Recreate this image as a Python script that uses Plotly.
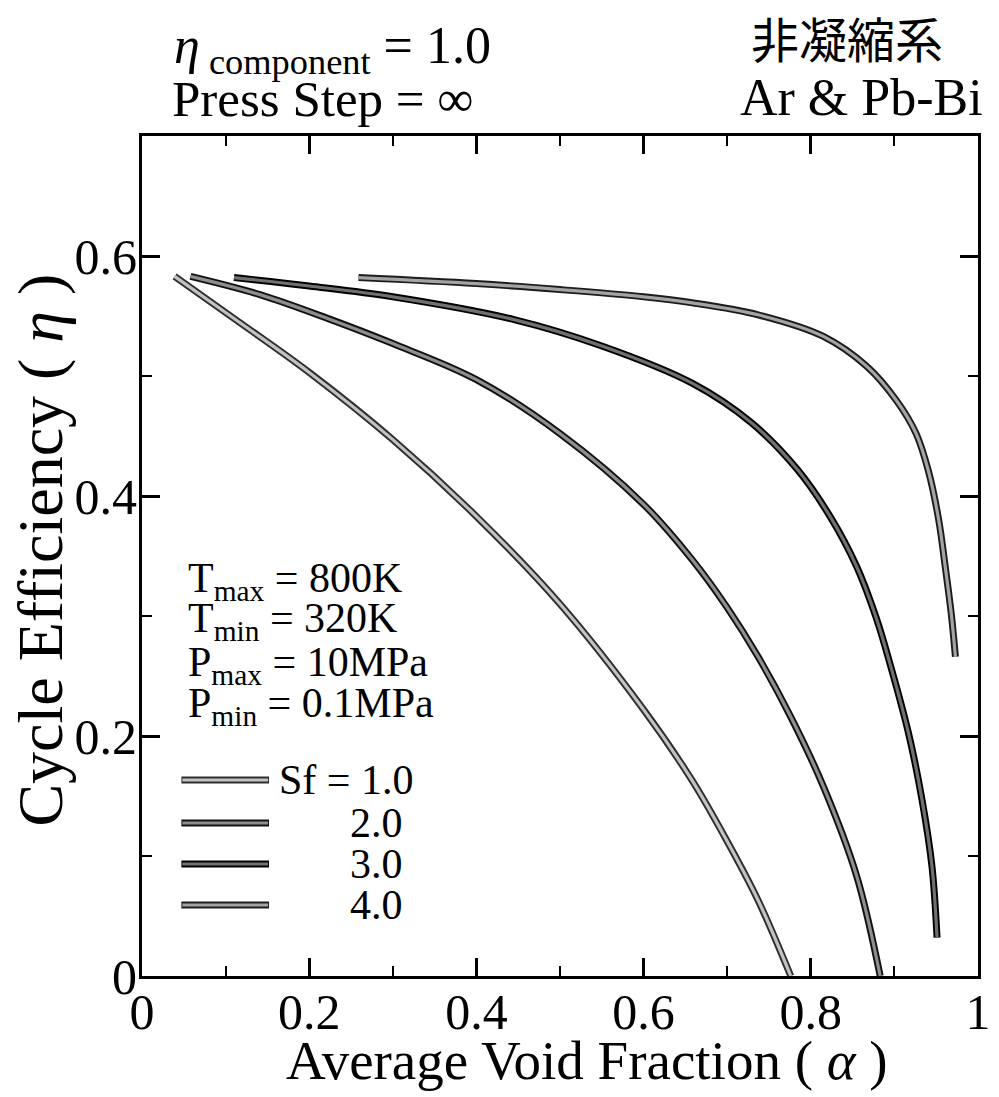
import plotly.graph_objects as go

# ---------------- data ----------------
alpha_sf1 = [0.039, 0.116, 0.2, 0.3, 0.4, 0.5, 0.6, 0.658, 0.697, 0.737, 0.776]
eta_sf1 = [0.583, 0.545, 0.503, 0.447, 0.383, 0.31, 0.222, 0.163, 0.116, 0.063, 0.0]

alpha_sf2 = [0.058, 0.14, 0.222, 0.3, 0.4, 0.5, 0.6, 0.658, 0.7, 0.737, 0.776, 0.815, 0.855, 0.883]
eta_sf2 = [0.583, 0.568, 0.548, 0.527, 0.497, 0.452, 0.393, 0.347, 0.307, 0.266, 0.216, 0.158, 0.083, 0.0]

alpha_sf3 = [0.110, 0.2, 0.3, 0.445, 0.55, 0.658, 0.729, 0.784, 0.823, 0.855, 0.878, 0.894, 0.917, 0.933, 0.945, 0.951]
eta_sf3 = [0.582, 0.575, 0.566, 0.547, 0.525, 0.494, 0.461, 0.422, 0.383, 0.341, 0.299, 0.262, 0.202, 0.147, 0.091, 0.032]

alpha_sf4 = [0.259, 0.4, 0.5, 0.6, 0.658, 0.737, 0.815, 0.867, 0.902, 0.926, 0.941, 0.953, 0.961, 0.968, 0.973]
eta_sf4 = [0.582, 0.577, 0.572, 0.566, 0.561, 0.551, 0.533, 0.508, 0.48, 0.452, 0.42, 0.38, 0.34, 0.302, 0.266]

sf_labels = ["Sf = 1.0", "2.0", "3.0", "4.0"]
x_tickvals = [0, 0.2, 0.4, 0.6, 0.8, 1.0]
x_ticktext = ["0", "0.2", "0.4", "0.6", "0.8", "1"]
y_tickvals = [0, 0.2, 0.4, 0.6]
y_ticktext = ["0", "0.2", "0.4", "0.6"]
conditions = ["T<sub>max</sub> = 800K", "T<sub>min</sub> = 320K",
              "P<sub>max</sub> = 10MPa", "P<sub>min</sub> = 0.1MPa"]

series = [(alpha_sf1, eta_sf1), (alpha_sf2, eta_sf2), (alpha_sf3, eta_sf3), (alpha_sf4, eta_sf4)]
edge_colors = ["#2e2e2e", "#111111", "#000000", "#1c1c1c"]
core_colors = ["#c2c2c2", "#8e8e8e", "#707070", "#a4a4a4"]

SERIF = "Liberation Serif, Times New Roman, serif"
W, H = 999, 1097
L, R, T, B = 142, 8, 136, 121
PW, PH = W - L - R, H - T - B


def px(x):
    return (x - L) / PW


def py(y):
    return (H - B - y) / PH


fig = go.Figure()
for (xs, ys), ec, cc in zip(series, edge_colors, core_colors):
    fig.add_trace(go.Scatter(x=xs, y=ys, mode="lines",
                             line=dict(color=ec, width=7, shape="spline", smoothing=1.0),
                             showlegend=False, hoverinfo="skip"))
    fig.add_trace(go.Scatter(x=xs, y=ys, mode="lines",
                             line=dict(color=cc, width=3.2, shape="spline", smoothing=1.0),
                             showlegend=False))

# legend samples (drawn in paper space)
legend_y = [780, 823, 864, 905]
for i, (lab, ec, cc) in enumerate(zip(sf_labels, edge_colors, core_colors)):
    yy = py(legend_y[i])
    fig.add_shape(type="line", xref="paper", yref="paper", x0=px(182), x1=px(271), y0=yy, y1=yy,
                  line=dict(color=ec, width=7))
    fig.add_shape(type="line", xref="paper", yref="paper", x0=px(183), x1=px(270), y0=yy, y1=yy,
                  line=dict(color=cc, width=3.2))
    tx = 279 if i == 0 else 351
    fig.add_annotation(x=px(tx), y=yy, xref="paper", yref="paper", text=lab, showarrow=False,
                       xanchor="left", yanchor="middle", font=dict(family=SERIF, size=42, color="black"))

cond_y = [581, 621, 665, 706]
for txt, yc in zip(conditions, cond_y):
    fig.add_annotation(x=px(187), y=py(yc), xref="paper", yref="paper", text=txt, showarrow=False,
                       xanchor="left", yanchor="middle", font=dict(family=SERIF, size=42, color="black"))

# header texts
fig.add_annotation(x=px(172), y=py(50), xref="paper", yref="paper",
                   text="<i>η</i><sub> component</sub> = 1.0", showarrow=False,
                   xanchor="left", yanchor="middle", font=dict(family=SERIF, size=52, color="black"))
fig.add_annotation(x=px(170), y=py(99), xref="paper", yref="paper",
                   text="Press Step = ∞", showarrow=False,
                   xanchor="left", yanchor="middle", font=dict(family=SERIF, size=51, color="black"))
fig.add_annotation(x=px(957), y=py(37), xref="paper", yref="paper",
                   text="非凝縮系", showarrow=False,
                   xanchor="right", yanchor="middle",
                   font=dict(family="Noto Sans CJK JP", size=48, color="black"))
fig.add_annotation(x=px(998), y=py(98), xref="paper", yref="paper",
                   text="Ar &amp; Pb-Bi", showarrow=False,
                   xanchor="right", yanchor="middle", font=dict(family=SERIF, size=52, color="black"))

# axis titles
fig.add_annotation(x=px(594), y=py(1060), xref="paper", yref="paper",
                   text="Average Void Fraction ( <i>α</i> )", showarrow=False,
                   xanchor="center", yanchor="middle", font=dict(family=SERIF, size=55, color="black"))
fig.add_annotation(x=px(38), y=py(550), xref="paper", yref="paper",
                   text="Cycle Efficiency ( <i>η</i> )", showarrow=False, textangle=-90,
                   xanchor="center", yanchor="middle", font=dict(family=SERIF, size=64, color="black"))

axis_common = dict(showgrid=False, zeroline=False, showline=True, linecolor="black", linewidth=3,
                   mirror="ticks", ticks="inside", ticklen=18, tickwidth=2.5, tickcolor="black",
                   ticklabeloverflow="allow",
                   tickfont=dict(family=SERIF, size=50, color="black"))

fig.update_xaxes(range=[0, 1], tickmode="array", tickvals=x_tickvals, ticktext=x_ticktext,
                 minor=dict(tickmode="linear", tick0=0, dtick=0.1, ticks="inside", ticklen=10,
                            tickwidth=2, tickcolor="black"),
                 ticklabelstandoff=-10, **axis_common)
fig.update_yaxes(range=[0, 0.7], tickmode="array", tickvals=y_tickvals, ticktext=y_ticktext,
                 minor=dict(tickmode="linear", tick0=0, dtick=0.1, ticks="inside", ticklen=10,
                            tickwidth=2, tickcolor="black"),
                 ticklabelstandoff=-8, **axis_common)

fig.update_layout(width=W, height=H, margin=dict(l=L, r=R, t=T, b=B),
                  paper_bgcolor="white", plot_bgcolor="white", showlegend=False)

fig.write_html("out.html")
